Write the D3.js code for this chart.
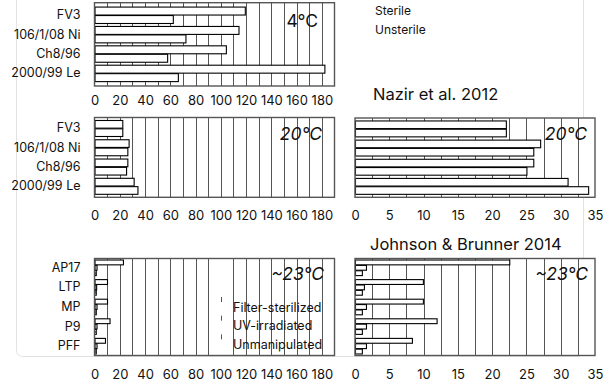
<!DOCTYPE html>
<html>
<head>
<meta charset="utf-8">
<script src="https://cdn.jsdelivr.net/npm/d3@7"></script>
<style>
  body { margin: 0; background: #fff; }
  svg { display: block; }
  text { font-family: Inter, Lato, sans-serif; fill: #111; }
</style>
</head>
<body>
<svg id="chart" width="603" height="386"></svg>
<script>
'use strict';

var FONT = 'Inter, Lato, sans-serif';

// Nazir et al. 2012
var nazirCats = ['FV3', '106/1/08 Ni', 'Ch8/96', '2000/99 Le'];
var nazirSeries = ['Sterile', 'Unsterile'];
var sterile4 = [119, 114, 104, 182];
var unsterile4 = [62, 72, 57.5, 66];
var sterile20 = [22, 27, 26, 31];
var unsterile20 = [22, 26, 25, 34];

// Johnson & Brunner 2014
var johnsonCats = ['AP17', 'LTP', 'MP', 'P9', 'PFF'];
var johnsonSeries = ['Filter-sterilized', 'UV-irradiated', 'Unmanipulated'];
var filterSterilized = [22.5, 9.9, 9.9, 11.9, 8.3];
var uvIrradiated = [1.6, 1.3, 1.6, 1.6, 1.6];
var unmanipulated = [1.0, 1.0, 1.0, 1.0, 1.0];

var wideTicks = [0, 20, 40, 60, 80, 100, 120, 140, 160, 180];
var narrowTicks = [0, 5, 10, 15, 20, 25, 30, 35];

var svg = d3.select('#chart');

// faint outer frame of the figure
svg.append('rect')
    .attr('x', 16.5).attr('y', -20)
    .attr('width', 567).attr('height', 376.5)
    .attr('rx', 6)
    .attr('fill', 'none')
    .attr('stroke', '#e2e2e2');

var LEFT = [94.5, 334.5];
var RIGHT = [355, 595];

function panel(o) {
    var g = svg.append('g');
    var x = d3.scaleLinear().domain([0, o.max]).range(o.xr);
    var y = d3.scaleBand().domain(o.cats).range(o.yr)
        .paddingInner(o.padIn).paddingOuter(o.padOut);
    var sub = d3.scaleBand().domain(d3.range(o.values.length))
        .range([0, y.bandwidth()]).padding(o.subPad);

    g.append('rect')
        .attr('x', o.xr[0]).attr('y', o.yr[0])
        .attr('width', o.xr[1] - o.xr[0]).attr('height', o.yr[1] - o.yr[0])
        .attr('fill', '#fff');

    // vertical grid
    var grid = d3.range(o.step, o.max - 0.001, o.step).filter(function(v) {
        return !(o.skip || []).some(function(s) { return Math.abs(s - v) < 1e-6; });
    });
    g.selectAll('line.grid').data(grid).enter().append('line')
        .attr('class', 'grid')
        .attr('x1', function(d) { return Math.round(x(d)) + 0.5; })
        .attr('x2', function(d) { return Math.round(x(d)) + 0.5; })
        .attr('y1', o.yr[0]).attr('y2', o.yr[1])
        .attr('stroke', '#555').attr('stroke-width', 1);

    // bars
    o.values.forEach(function(vals, j) {
        g.selectAll('rect.s' + j).data(vals).enter().append('rect')
            .attr('class', 's' + j)
            .attr('x', x(0) + 0.5)
            .attr('y', function(d, i) { return y(o.cats[i]) + sub(j); })
            .attr('width', function(d) { return Math.max(0, x(d) - x(0)); })
            .attr('height', sub.bandwidth())
            .attr('fill', '#fff')
            .attr('stroke', '#000')
            .attr('stroke-width', 1.1);
    });

    g.append('rect')
        .attr('x', o.xr[0]).attr('y', o.yr[0])
        .attr('width', o.xr[1] - o.xr[0]).attr('height', o.yr[1] - o.yr[0])
        .attr('fill', 'none')
        .attr('stroke', '#555').attr('stroke-width', 1.4);

    // x tick labels
    var ax = g.append('g')
        .attr('transform', 'translate(0,' + (o.labelY - 4.6) + ')')
        .call(d3.axisBottom(x).tickValues(o.ticks).tickSize(0).tickPadding(0));
    ax.select('.domain').remove();
    ax.selectAll('text').style('font-size', '13px').attr('fill', '#111')
        .style('font-family', FONT);

    if(o.showCats) {
        var ay = g.append('g')
            .attr('transform', 'translate(80.5,0)')
            .call(d3.axisLeft(y).tickSize(0).tickPadding(0));
        ay.select('.domain').remove();
        ay.selectAll('text').style('font-size', '12.5px').attr('fill', '#111')
            .style('font-family', FONT);
    }

    g.append('text')
        .attr('x', o.tag[0]).attr('y', o.tag[1])
        .attr('text-anchor', 'end')
        .style('font-size', '17.5px')
        .style('font-style', o.italic ? 'italic' : 'normal')
        .text(o.label);
    return {x: x, y: y};
}

panel({xr: LEFT, yr: [2.7, 86], max: 190, step: 10, ticks: wideTicks, labelY: 100,
    cats: nazirCats, values: [sterile4, unsterile4], padIn: 0.1, padOut: 0.2, subPad: 0.06,
    showCats: true, label: '4°C', italic: false, tag: [318, 27]});

panel({xr: LEFT, yr: [117.5, 197.3], max: 190, step: 10, ticks: wideTicks, labelY: 215,
    cats: nazirCats, values: [sterile20, unsterile20], padIn: 0.1, padOut: 0.12, subPad: 0.08,
    showCats: true, label: '20°C', italic: true, tag: [322, 140]});

panel({xr: RIGHT, yr: [118, 197.3], max: 35, step: 2.5, ticks: narrowTicks, labelY: 215,
    cats: nazirCats, values: [sterile20, unsterile20], padIn: 0.1, padOut: 0.12, subPad: 0.08,
    showCats: false, label: '20°C', italic: true, tag: [587, 140]});

var jl = panel({xr: LEFT, yr: [258.5, 355.5], max: 190, step: 10, ticks: wideTicks, labelY: 374,
    cats: johnsonCats, values: [filterSterilized, uvIrradiated, unmanipulated],
    padIn: 0.15, padOut: 0.05, subPad: 0.1, skip: [100],
    showCats: true, label: '~23°C', italic: true, tag: [324, 280]});

panel({xr: RIGHT, yr: [258.5, 355.5], max: 35, step: 2.5, ticks: narrowTicks, labelY: 374,
    cats: johnsonCats, values: [filterSterilized, uvIrradiated, unmanipulated],
    padIn: 0.15, padOut: 0.05, subPad: 0.1,
    showCats: false, label: '~23°C', italic: true, tag: [588, 280]});

// legends
var legJ = svg.append('g');
johnsonSeries.forEach(function(s, i) {
    var cy = 307 + i * 18.7;
    legJ.append('line')
        .attr('x1', Math.round(jl.x(100)) + 0.5).attr('x2', Math.round(jl.x(100)) + 0.5)
        .attr('y1', cy - 10).attr('y2', cy - 5)
        .attr('stroke', '#555');
    legJ.append('text')
        .attr('x', 233).attr('y', cy + 4.5)
        .style('font-size', '12.5px')
        .text(s);
});

nazirSeries.forEach(function(s, i) {
    svg.append('text')
        .attr('x', 375).attr('y', 11 + i * 19 + 4.3)
        .style('font-size', '12px')
        .text(s);
});

svg.append('text').attr('x', 373).attr('y', 99.5)
    .style('font-size', '16.5px').text('Nazir et al. 2012');
svg.append('text').attr('x', 370).attr('y', 250)
    .style('font-size', '16.5px').text('Johnson & Brunner 2014');
</script>
</body>
</html>
